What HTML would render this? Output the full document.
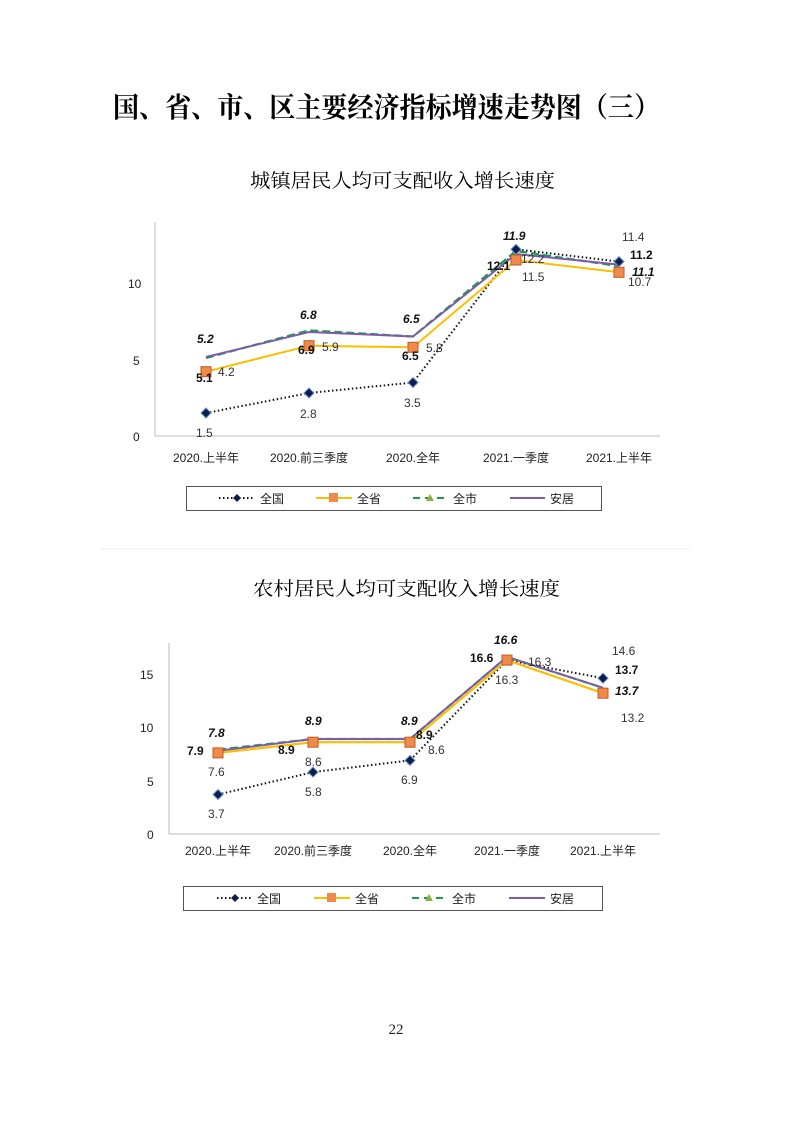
<!DOCTYPE html>
<html><head><meta charset="utf-8"><style>
html,body{margin:0;padding:0;background:#fff;}
svg{display:block;font-family:"Liberation Sans","Noto Sans CJK SC",sans-serif;}
.cn{font-family:"Liberation Serif","Noto Serif CJK SC",serif;}
.l{font-size:12px;fill:#333;}
.b{font-size:12px;font-weight:bold;fill:#111;}
.bi{font-size:12px;font-weight:bold;font-style:italic;fill:#111;}
.ax{font-size:12px;fill:#222;}
</style></head><body>
<svg width="793" height="1122" viewBox="0 0 793 1122">
<rect width="793" height="1122" fill="#fff"/>
<text x="113" y="117" class="cn" font-size="28" font-weight="bold" textLength="547" lengthAdjust="spacingAndGlyphs" fill="#000">国、省、市、区主要经济指标增速走势图（三）</text>

<!-- Chart 1 -->
<text x="250" y="187" class="cn" font-size="19" textLength="305" lengthAdjust="spacingAndGlyphs" fill="#000">城镇居民人均可支配收入增长速度</text>
<line x1="155" y1="222" x2="155" y2="436" stroke="#bbb"/>
<line x1="155" y1="436" x2="660" y2="436" stroke="#bbb"/>
<text x="128" y="288" class="ax">10</text>
<text x="133" y="365" class="ax">5</text>
<text x="133" y="441" class="ax">0</text>
<g class="ax" font-size="11" text-anchor="middle">
<text x="206" y="462">2020.上半年</text><text x="309" y="462">2020.前三季度</text><text x="413" y="462">2020.全年</text><text x="516" y="462">2021.一季度</text><text x="619" y="462">2021.上半年</text></g>
<polyline points="206,413 309,393 413,382.5 516,249.3 619,261.6" fill="none" stroke="#111" stroke-width="2" stroke-dasharray="1.5,2.5"/>
<polyline points="206,371.7 309,345.7 413,347.3 516,260 619,272.3" fill="none" stroke="#fbbf00" stroke-width="2"/>
<polyline points="206,358 309,330.4 413,336.5 516,250.9 619,266.2" fill="none" stroke="#1a9a4a" stroke-width="2.2" stroke-dasharray="8,4"/>
<polyline points="206,357 309,332 413,336.5 516,254 619,264.6" fill="none" stroke="#7a5ca8" stroke-width="2"/>
<g fill="#0b1f4a" stroke="#6a8fd0" stroke-width="1">
<path d="M206,408 l5,5 -5,5 -5,-5z"/><path d="M309,388 l5,5 -5,5 -5,-5z"/><path d="M413,377.5 l5,5 -5,5 -5,-5z"/><path d="M516,244.3 l5,5 -5,5 -5,-5z"/><path d="M619,256.6 l5,5 -5,5 -5,-5z"/></g>
<g fill="#f08a4b" stroke="#c05a20">
<rect x="201" y="366.7" width="10" height="10"/><rect x="304" y="340.7" width="10" height="10"/><rect x="408" y="342.3" width="10" height="10"/><rect x="511" y="255" width="10" height="10"/><rect x="614" y="267.3" width="10" height="10"/></g>
<g class="l"><text x="196" y="437">1.5</text><text x="300" y="418">2.8</text><text x="404" y="407">3.5</text><text x="622" y="241">11.4</text>
<text x="218" y="376">4.2</text><text x="322" y="351">5.9</text><text x="426" y="352">5.8</text><text x="522" y="281">11.5</text><text x="628" y="286">10.7</text><text x="521" y="263">12.2</text></g>
<g class="b"><text x="196" y="382">5.1</text><text x="298" y="354">6.9</text><text x="402" y="360">6.5</text><text x="487" y="270">12.1</text><text x="630" y="259">11.2</text></g>
<g class="bi"><text x="197" y="343">5.2</text><text x="300" y="319">6.8</text><text x="403" y="323">6.5</text><text x="503" y="240">11.9</text><text x="632" y="276">11.1</text></g>
<rect x="186.5" y="486.5" width="415" height="24" fill="none" stroke="#555"/>
<line x1="219" y1="498" x2="254" y2="498" stroke="#111" stroke-width="2" stroke-dasharray="1.5,2.5"/><path d="M237,494 l4,4 -4,4 -4,-4z" fill="#0b1f4a"/><text x="260" y="503" class="ax">全国</text>
<line x1="316" y1="498" x2="352" y2="498" stroke="#fbbf00" stroke-width="2"/><rect x="329" y="493" width="9" height="9" fill="#f08a4b"/><text x="357" y="503" class="ax">全省</text>
<line x1="413" y1="498" x2="448" y2="498" stroke="#1a9a4a" stroke-width="2" stroke-dasharray="7,5"/><path d="M430,494 l4,7 -8,0z" fill="#8ab040"/><text x="453" y="503" class="ax">全市</text>
<line x1="510" y1="498" x2="545" y2="498" stroke="#7a5ca8" stroke-width="2"/><text x="550" y="503" class="ax">安居</text>

<line x1="100" y1="549" x2="690" y2="549" stroke="#eee"/>

<!-- Chart 2 -->
<text x="253" y="595" class="cn" font-size="19" textLength="307" lengthAdjust="spacingAndGlyphs" fill="#000">农村居民人均可支配收入增长速度</text>
<line x1="169" y1="643" x2="169" y2="834" stroke="#bbb"/>
<line x1="169" y1="834" x2="660" y2="834" stroke="#bbb"/>
<text x="140" y="679" class="ax">15</text><text x="140" y="732" class="ax">10</text>
<text x="147" y="786" class="ax">5</text><text x="147" y="839" class="ax">0</text>
<g class="ax" font-size="11" text-anchor="middle">
<text x="218" y="855">2020.上半年</text><text x="313" y="855">2020.前三季度</text><text x="410" y="855">2020.全年</text><text x="507" y="855">2021.一季度</text><text x="603" y="855">2021.上半年</text></g>
<polyline points="218,794.5 313,772.1 410,760.4 507,660.1 603,678.2" fill="none" stroke="#111" stroke-width="2" stroke-dasharray="1.5,2.5"/>
<polyline points="218,752.9 313,742.2 410,742.2 507,660.1 603,693.2" fill="none" stroke="#fbbf00" stroke-width="2.2"/>
<polyline points="218,749.7 313,739 410,739 507,656.9 603,687.8" fill="none" stroke="#1a9a4a" stroke-width="2.2" stroke-dasharray="8,4"/>
<polyline points="218,750.8 313,739 410,739 507,656.9 603,687.8" fill="none" stroke="#7a5ca8" stroke-width="2"/>
<g fill="#0b1f4a" stroke="#6a8fd0" stroke-width="1">
<path d="M218,789.5 l5,5 -5,5 -5,-5z"/><path d="M313,767.1 l5,5 -5,5 -5,-5z"/><path d="M410,755.4 l5,5 -5,5 -5,-5z"/><path d="M507,655.1 l5,5 -5,5 -5,-5z"/><path d="M603,673.2 l5,5 -5,5 -5,-5z"/></g>
<g fill="#f08a4b" stroke="#c05a20">
<rect x="213" y="747.9" width="10" height="10"/><rect x="308" y="737.2" width="10" height="10"/><rect x="405" y="737.2" width="10" height="10"/><rect x="502" y="655.1" width="10" height="10"/><rect x="598" y="688.2" width="10" height="10"/></g>
<g class="l"><text x="208" y="818">3.7</text><text x="305" y="796">5.8</text><text x="401" y="784">6.9</text><text x="612" y="655">14.6</text>
<text x="208" y="776">7.6</text><text x="305" y="766">8.6</text><text x="428" y="754">8.6</text><text x="495" y="684">16.3</text><text x="528" y="666">16.3</text><text x="621" y="722">13.2</text></g>
<g class="b"><text x="187" y="755">7.9</text><text x="278" y="754">8.9</text><text x="416" y="739">8.9</text><text x="470" y="662">16.6</text><text x="615" y="674">13.7</text></g>
<g class="bi"><text x="208" y="737">7.8</text><text x="305" y="725">8.9</text><text x="401" y="725">8.9</text><text x="494" y="644">16.6</text><text x="615" y="695">13.7</text></g>
<rect x="183.5" y="886.5" width="419" height="24" fill="none" stroke="#555"/>
<line x1="217" y1="898" x2="251" y2="898" stroke="#111" stroke-width="2" stroke-dasharray="1.5,2.5"/><path d="M235,894 l4,4 -4,4 -4,-4z" fill="#0b1f4a"/><text x="257" y="903" class="ax">全国</text>
<line x1="314" y1="898" x2="350" y2="898" stroke="#fbbf00" stroke-width="2"/><rect x="327" y="893" width="9" height="9" fill="#f08a4b"/><text x="355" y="903" class="ax">全省</text>
<line x1="412" y1="898" x2="447" y2="898" stroke="#1a9a4a" stroke-width="2" stroke-dasharray="7,5"/><path d="M429,894 l4,7 -8,0z" fill="#8ab040"/><text x="452" y="903" class="ax">全市</text>
<line x1="509" y1="898" x2="545" y2="898" stroke="#7a5ca8" stroke-width="2"/><text x="550" y="903" class="ax">安居</text>

<text x="396" y="1034" text-anchor="middle" class="cn" font-size="15" fill="#222">22</text>
</svg>
</body></html>
